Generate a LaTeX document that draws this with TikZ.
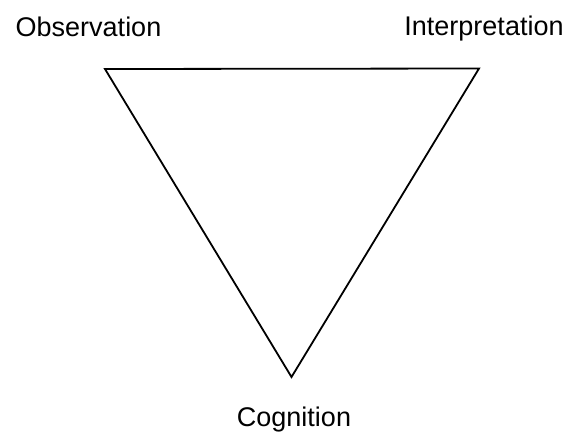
\documentclass[tikz,border=0pt]{standalone}
\usepackage{fontspec}
\setmainfont{Liberation Sans}
\begin{document}
\begin{tikzpicture}[x=1pt,y=-1pt,
  lbl/.style={anchor=base,inner sep=0pt,font=\fontsize{27}{31}\selectfont},
  edge/.style={line width=1.8pt,line join=miter}]
\useasboundingbox (0,0) rectangle (567,432);
\coordinate (o) at (105,69);
\coordinate (i) at (479,68.5);
\coordinate (c) at (291.5,377);
\draw[edge] (o) -- (i) -- (c) -- cycle;
\node[lbl] (lo) at (88.5,36) {Observation};
\node[lbl] (li) at (484,35.5) {Interpretation};
\node[lbl] (lc) at (294,426.5) {Cognition};
\end{tikzpicture}
\end{document}
